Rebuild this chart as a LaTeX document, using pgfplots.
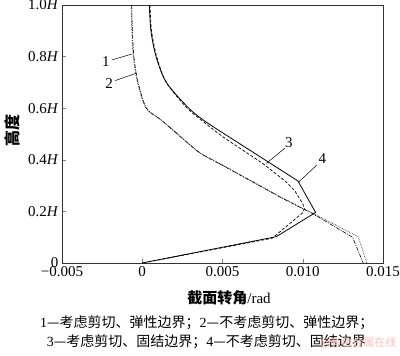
\documentclass[border=0pt]{standalone}
\usepackage{pgfplots}
\pgfplotsset{compat=1.18}
\usepackage{fontspec}
\setmainfont{Liberation Serif}
\newfontfamily\cjk{Noto Sans CJK SC}
\begin{document}
\begin{tikzpicture}
\useasboundingbox (-62pt,-93pt) rectangle (338pt,263pt);
\begin{axis}[
  at={(0pt,0pt)}, anchor=south west,
  scale only axis, width=321pt, height=258pt,
  xmin=-0.005, xmax=0.015, ymin=0, ymax=1,
  scaled x ticks=false,
  xtick={-0.005,0,0.005,0.010,0.015},
  xticklabels={−0.005,0,0.005,0.010,0.015},
  ytick={0,0.2,0.4,0.6,0.8,1.0},
  yticklabels={0,0.2\textit{H},0.4\textit{H},0.6\textit{H},0.8\textit{H},1.0\textit{H}},
  tick align=inside, xtick pos=bottom, ytick pos=left,
  major tick length=4pt,
  tick label style={font=\fontsize{15}{18}\selectfont},
  axis line style={line width=0.8pt, black!80},
  clip=false,
]
% curve 1: dotted (upper smooth part, lower straight part)
\addplot[black, line width=0.6pt, densely dotted, smooth, tension=0.5] coordinates {
(-0.00070,1.00) (-0.00065,0.90) (-0.00056,0.80) (-0.00030,0.70)
(0.00023,0.60) (0.0012,0.555) (0.0024,0.49) (0.0036,0.428) (0.0048,0.387)
};
\addplot[black, line width=0.6pt, densely dotted] coordinates {
(0.0048,0.387) (0.0086,0.257) (0.0100,0.212) (0.0106,0.194) (0.01345,0.102) (0.0140,0)
};
% curve 2: dash-dot
\addplot[black, line width=0.6pt, dash pattern=on 4pt off 1.2pt on 1pt off 1.2pt, smooth, tension=0.5] coordinates {
(-0.00066,1.00) (-0.00061,0.90) (-0.00052,0.80) (-0.00026,0.70)
(0.00027,0.60) (0.0012,0.553) (0.0024,0.488) (0.0036,0.426) (0.0048,0.385)
};
\addplot[black, line width=0.6pt, dash pattern=on 4pt off 1.2pt on 1pt off 1.2pt] coordinates {
(0.0048,0.385) (0.0086,0.255) (0.0100,0.210) (0.0106,0.192) (0.0131,0.100) (0.01377,0)
};
% curve 3: dashed
\addplot[black, line width=0.7pt, dash pattern=on 3pt off 1.8pt, smooth, tension=0.5] coordinates {
(0.00048,1.0) (0.00058,0.9) (0.0009,0.8) (0.0015,0.70)
(0.0028,0.60) (0.0038,0.548) (0.0050,0.490)
};
\addplot[black, line width=0.7pt, dash pattern=on 3pt off 1.8pt] coordinates {
(0.0050,0.490) (0.0075,0.386) (0.0089,0.318)
(0.0095,0.280) (0.0100,0.230) (0.0101,0.210) (0.0100,0.195) (0.0081,0.096) (0,0)
};
% curve 4: solid
\addplot[black, line width=0.8pt, smooth, tension=0.5] coordinates {
(0.00044,1.0) (0.00054,0.9) (0.00086,0.8) (0.0015,0.70)
(0.0029,0.60) (0.0039,0.55) (0.0049,0.509)
};
\addplot[black, line width=0.8pt] coordinates {
(0.0049,0.509) (0.0097,0.318) (0.0108,0.196) (0.00835,0.102) (0,0)
};
% labels
\draw[black, line width=0.5pt] (axis cs:-0.0019,0.787) -- (axis cs:-0.00064,0.81);
\node[font=\fontsize{15}{18}\selectfont] at (axis cs:-0.00227,0.782) {1};
\draw[black, line width=0.5pt] (axis cs:-0.00169,0.707) -- (axis cs:-0.00039,0.735);
\node[font=\fontsize{15}{18}\selectfont] at (axis cs:-0.00206,0.696) {2};
\draw[black, line width=0.5pt] (axis cs:0.00888,0.445) -- (axis cs:0.00773,0.386);
\node[font=\fontsize{15}{18}\selectfont] at (axis cs:0.00913,0.468) {3};
\draw[black, line width=0.5pt] (axis cs:0.01088,0.38) -- (axis cs:0.00975,0.314);
\node[font=\fontsize{15}{18}\selectfont] at (axis cs:0.01123,0.403) {4};
\end{axis}
\node[font=\fontsize{15}{18}\selectfont] at (167pt,-35pt) {{\bfseries\cjk 截面转角}/rad};
\node[font=\fontsize{16}{18}\selectfont\bfseries, rotate=90] at (-50pt,132pt) {\cjk 高度};
\node[font=\fontsize{14}{17}\selectfont, anchor=west] at (-25.3pt,-59.7pt) {1{\cjk —考虑剪切、弹性边界；}2{\cjk —不考虑剪切、弹性边界；}};
\node[font=\fontsize{14}{17}\selectfont, anchor=west] at (-18.7pt,-78.7pt) {3{\cjk —考虑剪切、固结边界；}4{\cjk —不考虑剪切、固结边界}};
\node[font=\fontsize{11}{13}\selectfont, text=red!25, anchor=east] at (338pt,-80pt) {\cjk @有色金属在线};
\end{tikzpicture}
\end{document}
